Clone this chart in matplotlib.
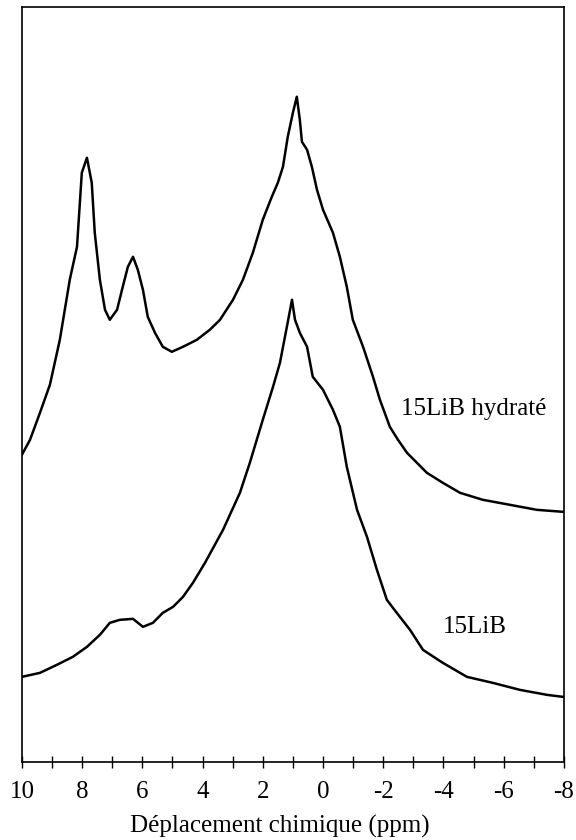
import matplotlib
matplotlib.use("Agg")
import matplotlib.pyplot as plt
from matplotlib.ticker import MultipleLocator

plt.rcParams['font.family'] = ['Liberation Serif', 'DejaVu Serif']
plt.rcParams['axes.unicode_minus'] = False

# 15LiB hydraté (upper trace): chemical shift (ppm) and intensity (a.u.)
ppm_hyd = [10.00, 9.73, 9.40, 9.07, 8.74, 8.41, 8.17, 8.01, 7.84, 7.68, 7.58, 7.41,
           7.24, 7.08, 6.84, 6.65, 6.48, 6.31, 6.15, 5.98, 5.82, 5.58, 5.32, 5.02,
           4.65, 4.19, 3.76, 3.42, 2.99, 2.66, 2.33, 2.00, 1.70, 1.50, 1.33, 1.17,
           1.00, 0.87, 0.77, 0.70, 0.53, 0.37, 0.20, 0.00, -0.33, -0.56, -0.79,
           -0.99, -1.33, -1.66, -1.89, -2.22, -2.49, -2.79, -3.45, -3.98, -4.55,
           -5.31, -6.21, -7.10, -7.97]
int_hyd = [307, 322, 349, 377, 422, 482, 515, 589, 604, 579, 529, 482,
           452, 442, 452, 475, 495, 505, 492, 472, 445, 429, 415, 410,
           415, 422, 432, 442, 462, 482, 509, 542, 565, 579, 595, 625,
           649, 665, 642, 620, 612, 595, 572, 552, 529, 505, 475,
           442, 415, 385, 362, 335, 322, 309, 289, 279, 269,
           262, 257, 252, 250]

# 15LiB (lower trace)
ppm_lib = [10.00, 9.40, 8.84, 8.31, 7.84, 7.41, 7.08, 6.75, 6.31, 5.98, 5.65, 5.32,
           4.98, 4.65, 4.32, 3.92, 3.32, 2.76, 2.43, 2.00, 1.66, 1.43, 1.20, 1.03,
           0.93, 0.77, 0.53, 0.34, 0.00, -0.33, -0.56, -0.79, -1.13, -1.46, -1.79,
           -2.12, -2.45, -2.89, -3.32, -3.98, -4.78, -5.64, -6.54, -7.44, -7.97]
int_lib = [85, 89, 97, 105, 115, 127, 139, 142, 143, 135, 139, 149,
           155, 165, 179, 199, 232, 269, 299, 342, 375, 399, 435, 462,
           442, 429, 415, 385, 372, 352, 335, 295, 252, 225, 192,
           162, 149, 132, 112, 99, 85, 79, 72, 67, 65]

labels = ["15LiB hydraté", "15LiB"]
xticks = [10, 8, 6, 4, 2, 0, -2, -4, -6, -8]

fig = plt.figure(figsize=(5.76, 8.40), dpi=100)
ax = fig.add_axes([0.038, 0.093, 0.941, 0.899])

ax.plot(ppm_hyd, int_hyd, color='black', lw=1.8)
ax.plot(ppm_lib, int_lib, color='black', lw=1.8)

ax.text(-5.0, 353, labels[0], fontsize=18, ha='center', va='center')
ax.text(-5.05, 135, labels[1], fontsize=18, ha='center', va='center')

ax.set_xlim(10, -8)
ax.set_ylim(0, 755)
ax.set_xticks(xticks)
ax.set_xticklabels([str(t) for t in xticks])
ax.xaxis.set_minor_locator(MultipleLocator(1))
ax.set_yticks([])
ax.tick_params(axis='x', which='both', direction='inout', length=9, width=1,
               labelsize=18, pad=9)
ax.set_xlabel("Déplacement chimique (ppm)", fontsize=18)
ax.xaxis.set_label_coords(0.476, -0.070)
for s in ax.spines.values():
    s.set_linewidth(1.2)

fig.savefig("out.png", dpi=100)
